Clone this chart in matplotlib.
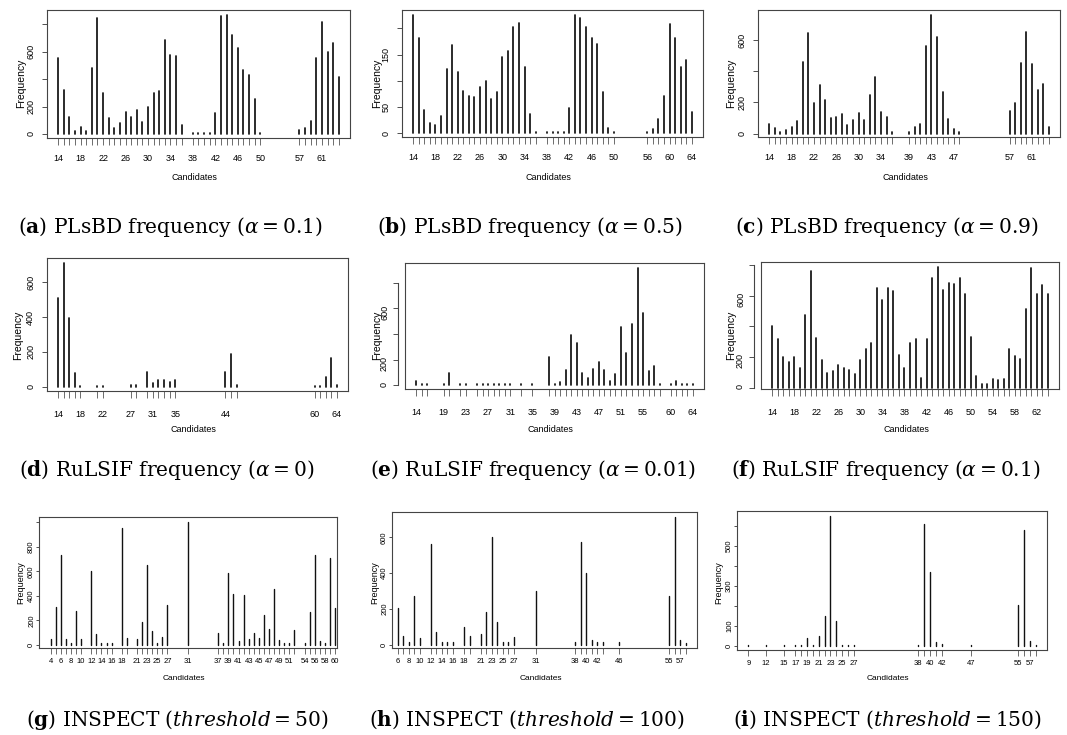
import matplotlib
matplotlib.use("Agg")
import matplotlib.pyplot as plt
from matplotlib import font_manager

# ---- values ----
# (a) PLsBD alpha = 0.1
a_cand = [14, 15, 16, 17, 18, 19, 20, 21, 22, 23, 24, 25, 26, 27, 28, 29, 30, 31, 32, 33, 34, 35, 36,
          38, 39, 40, 41, 42, 43, 44, 45, 46, 47, 48, 49, 50,
          57, 58, 59, 60, 61, 62, 63, 64]
a_freq = [551, 321, 121, 19, 49, 22, 483, 843, 296, 117, 44, 83, 158, 126, 177, 85, 194, 296, 316, 683, 578, 571, 63,
          5, 5, 8, 5, 151, 862, 870, 724, 627, 469, 432, 253, 5,
          27, 44, 97, 554, 814, 598, 663, 418]
a_xlab = [14, 18, 22, 26, 30, 34, 38, 42, 46, 50, 57, 61]
a_yticks = [0, 200, 400, 600, 800]
a_ylab = [0, 200, 600]

# (b) PLsBD alpha = 0.5
b_cand = [14, 15, 16, 17, 18, 19, 20, 21, 22, 23, 24, 25, 26, 27, 28, 29, 30, 31, 32, 33, 34, 35, 36,
          38, 39, 40, 41, 42, 43, 44, 45, 46, 47, 48, 49, 50,
          56, 57, 58, 59, 60, 61, 62, 63, 64]
b_freq = [225, 181, 44, 20, 16, 33, 123, 168, 117, 81, 72, 70, 89, 99, 66, 79, 146, 157, 202, 210, 126, 36, 3,
          2, 2, 2, 3, 48, 226, 220, 202, 181, 170, 79, 11, 3,
          3, 8, 28, 71, 208, 181, 127, 139, 40]
b_xlab = [14, 18, 22, 26, 30, 34, 38, 42, 46, 50, 56, 60, 64]
b_yticks = [0, 50, 100, 150, 200]
b_ylab = [0, 50, 150]

# (c) PLsBD alpha = 0.9
c_cand = [14, 15, 16, 17, 18, 19, 20, 21, 22, 23, 24, 25, 26, 27, 28, 29, 30, 31, 32, 33, 34, 35, 36,
          39, 40, 41, 42, 43, 44, 45, 46, 47, 48,
          57, 58, 59, 60, 61, 62, 63, 64]
c_freq = [60, 39, 11, 26, 45, 82, 458, 645, 194, 309, 216, 101, 104, 125, 54, 88, 134, 88, 246, 365, 136, 110, 9,
          13, 43, 65, 559, 762, 619, 268, 97, 28, 11,
          145, 199, 455, 650, 447, 281, 317, 43]
c_xlab = [14, 18, 22, 26, 30, 34, 39, 43, 47, 57, 61]
c_yticks = [0, 200, 400, 600]
c_ylab = [0, 200, 600]

# (d) RuLSIF alpha = 0
d_cand = [14, 15, 16, 17, 18, 21, 22, 27, 28, 30, 31, 32, 33, 34, 35, 44, 45, 46, 60, 61, 62, 63, 64]
d_freq = [510, 711, 394, 81, 4, 4, 4, 8, 8, 87, 19, 37, 37, 29, 37, 83, 187, 12, 4, 4, 56, 167, 12]
d_xlab = [14, 18, 22, 27, 31, 35, 44, 60, 64]
d_yticks = [0, 200, 400, 600]
d_ylab = [0, 200, 400, 600]

# (e) RuLSIF alpha = 0.01
e_cand = [14, 15, 16, 19, 20, 22, 23, 25, 26, 27, 28, 29, 30, 31, 33, 35,
          38, 39, 40, 41, 42, 43, 44, 45, 46, 47, 48, 49, 50, 51, 52, 53, 54, 55, 56, 57, 58,
          60, 61, 62, 63, 64]
e_freq = [31, 8, 8, 8, 94, 8, 8, 8, 8, 8, 8, 8, 8, 8, 8, 8,
          218, 8, 26, 122, 395, 332, 96, 55, 125, 179, 122, 34, 86, 452, 249, 481, 917, 564, 112, 148, 8,
          8, 31, 8, 8, 8]
e_xlab = [14, 19, 23, 27, 31, 35, 39, 43, 47, 51, 55, 60, 64]
e_yticks = [0, 200, 400, 600, 800]
e_ylab = [0, 200, 600]

# (f) RuLSIF alpha = 0.1
f_cand = [14, 15, 16, 17, 18, 19, 20, 21, 22, 23, 24, 25, 26, 27, 28, 29, 30, 31, 32, 33, 34, 35, 36, 37, 38, 39,
          40, 41, 42, 43, 44, 45, 46, 47, 48, 49, 50, 51, 52, 53, 54, 55, 56, 57, 58, 59, 60, 61, 62, 63, 64]
f_freq = [401, 318, 199, 165, 201, 126, 474, 761, 324, 179, 95, 110, 148, 126, 113, 88, 181, 251, 291, 651,
          569, 649, 629, 212, 130, 289, 320, 66, 315, 715, 788, 638, 682, 675, 717, 613, 331, 73, 22, 26,
          55, 51, 55, 251, 205, 190, 510, 777, 609, 666, 613]
f_xlab = [14, 18, 22, 26, 30, 34, 38, 42, 46, 50, 54, 58, 62]
f_yticks = [0, 200, 400, 600, 800]
f_ylab = [0, 200, 600]

# (g) INSPECT threshold = 50
g_cand = [4, 5, 6, 7, 8, 9, 10, 12, 13, 14, 15, 16, 18, 19, 21, 22, 23, 24, 25, 26, 27, 31,
          37, 38, 39, 40, 41, 42, 43, 44, 45, 46, 47, 48, 49, 50, 51, 52, 54, 55, 56, 57, 58, 59, 60]
g_freq = [43, 312, 731, 48, 13, 275, 48, 603, 91, 13, 13, 13, 952, 56, 43, 184, 651, 115, 13, 67, 328, 1005,
          99, 13, 584, 413, 32, 403, 45, 99, 59, 243, 128, 453, 37, 13, 13, 123, 13, 264, 731, 29, 13, 712, 301]
g_xlab = [4, 6, 8, 10, 12, 14, 16, 18, 21, 23, 25, 27, 31, 37, 39, 41, 43, 45, 47, 49, 51, 54, 56, 58, 60]
g_yticks = [0, 200, 400, 600, 800, 1000]
g_ylab = [0, 200, 400, 600, 800]

# (h) INSPECT threshold = 100
h_cand = [6, 7, 8, 9, 10, 12, 13, 14, 15, 16, 18, 19, 21, 22, 23, 24, 25, 26, 27, 31,
          38, 39, 40, 41, 42, 43, 46, 55, 56, 57, 58]
h_freq = [204, 48, 13, 272, 36, 566, 74, 13, 13, 13, 97, 48, 59, 181, 604, 126, 13, 13, 46, 303,
          13, 577, 400, 29, 13, 13, 13, 274, 714, 25, 10]
h_xlab = [6, 8, 10, 12, 14, 16, 18, 21, 23, 25, 27, 31, 38, 40, 42, 46, 55, 57]
h_yticks = [0, 200, 400, 600]
h_ylab = [0, 200, 400, 600]

# (i) INSPECT threshold = 150
i_cand = [9, 12, 15, 17, 18, 19, 20, 21, 22, 23, 24, 25, 26, 27, 38, 39, 40, 41, 42, 47, 55, 56, 57, 58]
i_freq = [5, 5, 5, 5, 5, 41, 5, 51, 147, 647, 124, 5, 5, 5, 5, 606, 366, 21, 10, 5, 206, 578, 26, 5]
i_xlab = [9, 12, 15, 17, 19, 21, 23, 25, 27, 38, 40, 42, 47, 55, 57]
i_yticks = [0, 100, 200, 300, 400, 500, 600]
i_ylab = [0, 100, 300, 500]

captions = [
    r"($\mathbf{a}$) PLsBD frequency ($\alpha = 0.1$)",
    r"($\mathbf{b}$) PLsBD frequency ($\alpha = 0.5$)",
    r"($\mathbf{c}$) PLsBD frequency ($\alpha = 0.9$)",
    r"($\mathbf{d}$) RuLSIF frequency ($\alpha = 0$)",
    r"($\mathbf{e}$) RuLSIF frequency ($\alpha = 0.01$)",
    r"($\mathbf{f}$) RuLSIF frequency ($\alpha = 0.1$)",
    r"($\mathbf{g}$) INSPECT ($\mathit{threshold} = 50$)",
    r"($\mathbf{h}$) INSPECT ($\mathit{threshold} = 100$)",
    r"($\mathbf{i}$) INSPECT ($\mathit{threshold} = 150$)",
]

# ---- figure ----
W, H = 1067, 735
fonts = {f.name for f in font_manager.fontManager.ttflist}
SANS = "Liberation Sans Narrow" if "Liberation Sans Narrow" in fonts else "Liberation Sans"
plt.rcParams["font.family"] = SANS
plt.rcParams["mathtext.fontset"] = "dejavuserif"

fig = plt.figure(figsize=(W / 100, H / 100), dpi=100)


def r_lim(vals):
    # R's default 4% axis extension
    lo, hi = min(vals), max(vals)
    d = 0.04 * (hi - lo)
    return lo - d, hi + d


def panel(box, cand, freq, xlab, yticks, ylab, row, freq_x, cap, cap_x, y_off=0, xl=None):
    l, t, r, b = box
    ax = fig.add_axes([l / W, 1 - b / H, (r - l) / W, (b - t) / H])
    small = row == 2
    ax.vlines(cand, 0, freq, colors="#111111", linewidth=1.0 if small else 1.25,
              capstyle="round")
    if xl is None:
        xl = r_lim(cand)
    yl = r_lim(freq)
    ax.set_xlim(xl)
    ax.set_ylim(yl)
    ax.set_xticks(cand)
    ax.set_xticklabels([str(c) if c in xlab else "" for c in cand])
    ax.set_yticks(yticks)
    ax.set_yticklabels([str(v) if v in ylab else "" for v in yticks])
    fs = 5.5 if small else 6.5
    xpad = [6.5, 9, 3.5][row]
    ax.tick_params(axis="x", direction="out", length=5 if not small else 4, width=0.6,
                   colors="#555555", labelcolor="black", labelsize=fs, pad=xpad)
    if small:
        ax.tick_params(axis="y", length=2, pad=0.8)
    elif y_off:
        ax.tick_params(axis="y", length=3.5, pad=3)
    else:
        ax.tick_params(axis="y", length=3.5, pad=5)
    ax.tick_params(axis="y", direction="out", width=0.6, colors="#333333",
                   labelcolor="black", labelsize=fs, labelrotation=90)
    for lab in ax.get_yticklabels():
        lab.set_va("center")
    for s in ax.spines.values():
        s.set_linewidth(0.8)
        s.set_color("#444444")
    if y_off:
        # y axis drawn a little away from the box, as in the R output
        ax.spines["left"].set_position(("outward", y_off))
        ax.spines["left"].set_bounds(yticks[0], yticks[-1])
        ax.plot([xl[0], xl[0]], yl, color="#444444", linewidth=0.8, clip_on=False)
    cand_y = [177, 430, 678][row]
    freq_y = [83, 335, 583][row]
    cap_y = [233, 476, 726][row]
    fig.text((l + r) / 2 / W - 4 / W, 1 - cand_y / H, "Candidates", ha="center", va="center",
             fontsize=6 if small else 6.5)
    fig.text(freq_x / W, 1 - freq_y / H, "Frequency", ha="center", va="center", rotation=90,
             fontsize=6.5 if small else 7.5)
    fig.text(cap_x / W, 1 - cap_y / H, cap, ha="center", va="baseline", fontsize=14.5,
             family="DejaVu Serif")
    return ax


panels = [
    ((47, 10, 350, 138), a_cand, a_freq, a_xlab, a_yticks, a_ylab, 0, 21, 170, 0, None),
    ((402, 10, 703, 137), b_cand, b_freq, b_xlab, b_yticks, b_ylab, 0, 377, 530, 0, None),
    ((758, 10, 1060, 137), c_cand, c_freq, c_xlab, c_yticks, c_ylab, 0, 731, 887, 0, None),
    ((47, 258, 348, 391), d_cand, d_freq, d_xlab, d_yticks, d_ylab, 1, 18, 167, 0, None),
    ((405, 263, 704, 389), e_cand, e_freq, e_xlab, e_yticks, e_ylab, 1, 377, 533, 5, None),
    ((761, 262, 1059, 389), f_cand, f_freq, f_xlab, f_yticks, f_ylab, 1, 731, 886, 5, None),
    ((39, 517, 337, 648), g_cand, g_freq, g_xlab, g_yticks, g_ylab, 2, 21, 177, 0, (1.7, 60.4)),
    ((392, 512, 697, 648), h_cand, h_freq, h_xlab, h_yticks, h_ylab, 2, 375, 527, 0, (5.0, 60.0)),
    ((737, 511, 1047, 650), i_cand, i_freq, i_xlab, i_yticks, i_ylab, 2, 719, 887, 0, None),
]

for (box, cand, freq, xlab, yt, yl, row, fx, cx, off, xl), cap in zip(panels, captions):
    panel(box, cand, freq, xlab, yt, yl, row, fx, cap, cx, off, xl)

fig.savefig("out.png", dpi=100)
